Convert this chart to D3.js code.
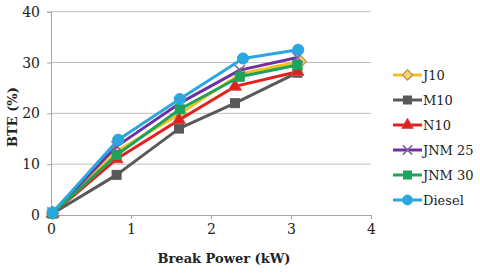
<!DOCTYPE html>
<html><head><meta charset="utf-8">
<script src="https://cdn.jsdelivr.net/npm/d3@7"></script>
<style>body{margin:0;background:#fff}svg{display:block}svg text{font-family:"DejaVu Serif","Liberation Serif",serif !important}</style>
</head><body>
<svg id="c" width="480" height="276"></svg>
<script>
const seriesNames = ["J10","M10","N10","JNM 25","JNM 30","Diesel"];
const xJ10 = [0.02,0.82,1.62,2.37,3.12];
const yJ10 = [0.3,12.5,20.0,27.8,30.2];
const xM10 = [0.02,0.82,1.60,2.30,3.08];
const yM10 = [0.3,7.9,17.0,22.0,28.0];
const xN10 = [0.02,0.82,1.60,2.30,3.08];
const yN10 = [0.3,11.0,18.7,25.3,28.2];
const xJNM25 = [0.02,0.82,1.61,2.36,3.08];
const yJNM25 = [0.5,13.5,22.0,28.5,31.0];
const xJNM30 = [0.02,0.82,1.61,2.36,3.08];
const yJNM30 = [0.3,11.8,20.8,27.2,29.5];
const xDiesel = [0.02,0.84,1.61,2.40,3.09];
const yDiesel = [0.5,14.8,22.8,30.8,32.5];
const xTicks = [0,1,2,3,4];
const yTicks = [0,10,20,30,40];

const styles = [
  {color:"#F2C21B", marker:"diamond", fill:"#F5D27A", stroke:"#B8944A"},
  {color:"#595959", marker:"square", fill:"#595959", stroke:"#595959"},
  {color:"#E3201B", marker:"triangle", fill:"#E3201B", stroke:"#C0504D"},
  {color:"#7030A0", marker:"cross", fill:"none", stroke:"#8064A2"},
  {color:"#1EA35C", marker:"square", fill:"#1EA35C", stroke:"#1EA35C"},
  {color:"#2AA7DF", marker:"circle", fill:"#2AA7DF", stroke:"#2AA7DF"}
];
const xs = [xJ10,xM10,xN10,xJNM25,xJNM30,xDiesel];
const ys = [yJ10,yM10,yN10,yJNM25,yJNM30,yDiesel];

const svg = d3.select("#c");
const x = d3.scaleLinear().domain([0,4]).range([51,371]);
const y = d3.scaleLinear().domain([0,40]).range([215,11.7]);

svg.append("g").selectAll("line").data(yTicks.filter(d=>d>0)).join("line")
  .attr("x1",x(0)).attr("x2",x(4)).attr("y1",d=>y(d)).attr("y2",d=>y(d))
  .attr("stroke","#BFBFBF").attr("stroke-width",1);

const ax = svg.append("g").attr("transform",`translate(0,${y(0)})`)
  .call(d3.axisBottom(x).tickValues(xTicks).tickSize(4).tickPadding(5).tickFormat(d3.format("d")));
const ay = svg.append("g").attr("transform",`translate(${x(0)},0)`)
  .call(d3.axisLeft(y).tickValues(yTicks).tickSize(4).tickPadding(7).tickFormat(d3.format("d")));
[ax,ay].forEach(a=>{
  a.attr("font-family",null).attr("font-size",14);
  a.selectAll("path,line").attr("stroke","#A6A6A6");
  a.selectAll("text").attr("fill","#222");
});

function marker(g, type, st, s){
  if(type==="circle") g.append("circle").attr("r",s*0.62).attr("fill",st.fill).attr("stroke",st.stroke);
  else if(type==="square") g.append("rect").attr("x",-s/2).attr("y",-s/2).attr("width",s).attr("height",s).attr("fill",st.fill).attr("stroke",st.stroke);
  else if(type==="diamond") g.append("path").attr("d",d3.symbol(d3.symbolDiamond2, s*s*1.1)()).attr("fill",st.fill).attr("stroke",st.stroke).attr("stroke-width",1.2);
  else if(type==="triangle") g.append("path").attr("d",d3.symbol(d3.symbolTriangle, s*s*0.9)()).attr("fill",st.fill).attr("stroke",st.stroke);
  else if(type==="cross") g.append("path").attr("d",d3.symbol(d3.symbolX, s*s*0.9)()).attr("fill","none").attr("stroke",st.stroke).attr("stroke-width",1.5);
}

const line = d3.line().x(d=>x(d[0])).y(d=>y(d[1]));
seriesNames.forEach((n,i)=>{
  const pts = xs[i].map((v,j)=>[v,ys[i][j]]);
  svg.append("path").datum(pts).attr("d",line).attr("fill","none")
    .attr("stroke",styles[i].color).attr("stroke-width",3).attr("stroke-linejoin","round");
  pts.forEach(p=>{
    const g = svg.append("g").attr("transform",`translate(${x(p[0])},${y(p[1])})`);
    marker(g, styles[i].marker, styles[i], 9);
  });
});

const leg = svg.append("g");
seriesNames.forEach((n,i)=>{
  const ly = 75 + i*25;
  leg.append("line").attr("x1",393).attr("x2",422).attr("y1",ly).attr("y2",ly)
    .attr("stroke",styles[i].color).attr("stroke-width",3);
  const g = leg.append("g").attr("transform",`translate(407.5,${ly})`);
  marker(g, styles[i].marker, styles[i], 8);
  leg.append("text").attr("x",423).attr("y",ly).attr("dy","0.35em")
    .attr("font-size",13).attr("fill","#222").text(n);
});

svg.append("text").attr("x",224).attr("y",263).attr("text-anchor","middle")
  .attr("font-size",13).attr("font-weight","bold").attr("fill","#222").text("Break Power (kW)");
svg.append("text").attr("transform","translate(17,117) rotate(-90)").attr("text-anchor","middle")
  .attr("font-size",13).attr("font-weight","bold").attr("fill","#222").text("BTE (%)");
</script>
</body></html>
